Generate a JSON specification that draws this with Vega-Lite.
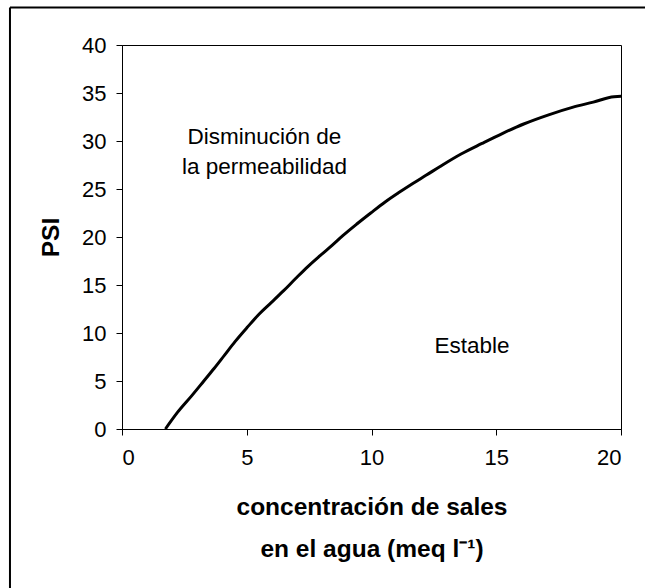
{
  "$schema": "https://vega.github.io/schema/vega-lite/v6.json",
  "width": 499,
  "height": 384,
  "autosize": {"type": "none"},
  "padding": {"left": 122, "top": 45, "right": 24, "bottom": 159},
  "background": "white",
  "config": {
    "view": {"stroke": "black", "strokeWidth": 1},
    "font": "Liberation Sans",
    "axis": {
      "grid": false,
      "domainColor": "black",
      "domainWidth": 1,
      "tickColor": "black",
      "tickWidth": 1,
      "tickSize": 6,
      "labelFont": "Liberation Sans",
      "labelFontSize": 22,
      "labelColor": "black",
      "labelPadding": 10,
      "titleFont": "Liberation Sans",
      "titleFontSize": 24.5,
      "titleFontWeight": "bold",
      "titleColor": "black"
    }
  },
  "layer": [
    {
      "data": {"values": [{}]},
      "mark": {"type": "rule", "color": "black", "strokeWidth": 2},
      "encoding": {
        "x": {"datum": -4.49, "type": "quantitative", "scale": {"domain": [0, 20], "nice": false}},
        "y": {"datum": 43.9, "type": "quantitative", "scale": {"domain": [0, 40], "nice": false}},
        "y2": {"datum": -20}
      }
    },
    {
      "data": {"values": [{}]},
      "mark": {"type": "rule", "color": "black", "strokeWidth": 2},
      "encoding": {
        "x": {"datum": -4.49, "type": "quantitative"},
        "x2": {"datum": 25},
        "y": {"datum": 43.9, "type": "quantitative"}
      }
    },
    {
      "data": {
        "values": [
          {"c": 1.74, "psi": 0},
          {"c": 2.23, "psi": 1.75},
          {"c": 2.79, "psi": 3.45},
          {"c": 3.28, "psi": 5.0},
          {"c": 3.69, "psi": 6.3},
          {"c": 4.11, "psi": 7.7},
          {"c": 4.53, "psi": 9.1},
          {"c": 5.02, "psi": 10.59},
          {"c": 5.5, "psi": 11.98},
          {"c": 5.99, "psi": 13.19},
          {"c": 6.48, "psi": 14.41},
          {"c": 6.97, "psi": 15.7},
          {"c": 7.46, "psi": 16.95},
          {"c": 7.94, "psi": 18.06},
          {"c": 8.43, "psi": 19.15},
          {"c": 8.85, "psi": 20.14},
          {"c": 9.41, "psi": 21.35},
          {"c": 9.97, "psi": 22.5},
          {"c": 10.52, "psi": 23.6},
          {"c": 11.08, "psi": 24.6},
          {"c": 11.64, "psi": 25.55},
          {"c": 12.2, "psi": 26.45},
          {"c": 12.75, "psi": 27.35},
          {"c": 13.59, "psi": 28.65},
          {"c": 14.43, "psi": 29.75},
          {"c": 15.26, "psi": 30.8},
          {"c": 16.1, "psi": 31.77},
          {"c": 17.07, "psi": 32.7},
          {"c": 18.05, "psi": 33.5},
          {"c": 18.89, "psi": 34.05},
          {"c": 19.72, "psi": 34.62},
          {"c": 20, "psi": 34.65}
        ]
      },
      "mark": {"type": "line", "color": "black", "strokeWidth": 3, "interpolate": "monotone"},
      "encoding": {
        "x": {
          "field": "c",
          "type": "quantitative",
          "axis": {
            "values": [0, 5, 10, 15, 20],
            "title": ["concentración de sales", "en el agua (meq l⁻¹)"],
            "titleLineHeight": 42,
            "titlePadding": 27,
            "labelPadding": 12
          }
        },
        "y": {
          "field": "psi",
          "type": "quantitative",
          "axis": {
            "values": [0, 5, 10, 15, 20, 25, 30, 35, 40],
            "title": "PSI",
            "titlePadding": 18
          }
        }
      }
    },
    {
      "data": {
        "values": [
          {"label": "Disminución de", "c": 5.71, "psi": 30.4},
          {"label": "la permeabilidad", "c": 5.71, "psi": 27.3},
          {"label": "Estable", "c": 14.03, "psi": 8.65}
        ]
      },
      "mark": {"type": "text", "font": "Liberation Sans", "fontSize": 22.5, "color": "black", "align": "center", "baseline": "middle"},
      "encoding": {
        "x": {"field": "c", "type": "quantitative"},
        "y": {"field": "psi", "type": "quantitative"},
        "text": {"field": "label"}
      }
    }
  ]
}
